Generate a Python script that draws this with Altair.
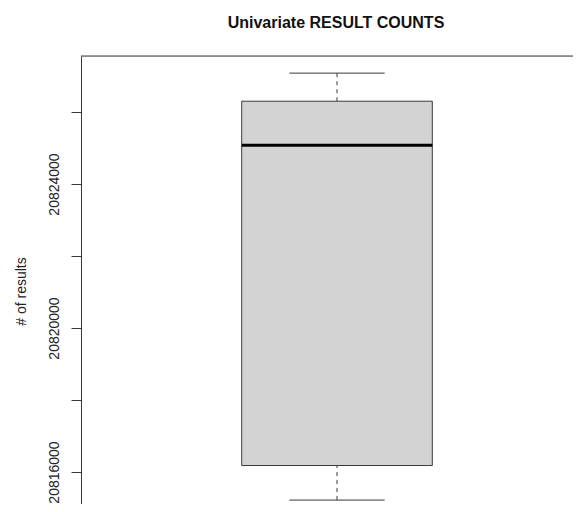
import altair as alt
import pandas as pd

# ---- data ----
title_text = ["Univariate RESULT COUNTS"]
y_label = "# of results"
positions = [1]
whisker_low = [20815220]
q1 = [20816180]
median = [20825080]
q3 = [20826300]
whisker_high = [20827080]
y_ticks = [20816000, 20818000, 20820000, 20822000, 20824000, 20826000]

df = pd.DataFrame(dict(pos=positions, lo=whisker_low, q1=q1, med=median, q3=q3, hi=whisker_high))
tdf = pd.DataFrame(dict(t=title_text))

W, H = 492, 448
xs = alt.Scale(domain=[-0.0745, 1.9905], nice=False, zero=False)
ys = alt.Scale(domain=[20815111, 20827556], nice=False, zero=False)

LINE = "#3a3a3a"

base = alt.Chart(df).transform_calculate(
    bx0="datum.pos - 0.4", bx1="datum.pos + 0.4",
    sx0="datum.pos - 0.2", sx1="datum.pos + 0.2",
)

yaxis = alt.Axis(
    values=y_ticks,
    labelExpr="datum.value % 4000 == 0 ? format(datum.value, 'd') : ''",
    labelAngle=270,
    labelAlign="center",
    labelBaseline="alphabetic",
    labelFontSize=14,
    labelColor="#222",
    labelPadding=13,
    tickSize=10,
    tickColor=LINE,
    domainColor=LINE,
    grid=False,
    titleFontSize=14,
    titleFontWeight="normal",
    titleColor="#222",
    titleAngle=270,
    titleAlign="center",
    titleBaseline="middle",
    titleX=-60,
    titleY=235,
    labelOverlap=False,
)


def Y(field):
    return alt.Y(field, scale=ys, axis=yaxis, title=y_label)


def X(field):
    return alt.X(field, scale=xs, axis=None)


box = base.mark_rect(fill="#d3d3d3", stroke=LINE, strokeWidth=1).encode(
    x=X("bx0:Q"), x2="bx1:Q", y=Y("q1:Q"), y2="q3:Q",
)
med = base.mark_rule(color="black", strokeWidth=3).encode(
    x=X("bx0:Q"), x2="bx1:Q", y=Y("med:Q"),
)
wh_up = base.mark_rule(color=LINE, strokeDash=[4, 4]).encode(
    x=X("pos:Q"), y=Y("q3:Q"), y2="hi:Q",
)
wh_lo = base.mark_rule(color=LINE, strokeDash=[4, 4]).encode(
    x=X("pos:Q"), y=Y("lo:Q"), y2="q1:Q",
)
cap_up = base.mark_rule(color=LINE).encode(
    x=X("sx0:Q"), x2="sx1:Q", y=Y("hi:Q"),
)
cap_lo = base.mark_rule(color=LINE).encode(
    x=X("sx0:Q"), x2="sx1:Q", y=Y("lo:Q"),
)
frame_top = alt.Chart(df).mark_rule(color=LINE).encode(
    x=alt.value(0), x2=alt.value(W), y=alt.value(0)
)
title = alt.Chart(tdf).mark_text(
    fontSize=16, fontWeight="bold", color="#111", align="center", baseline="alphabetic"
).encode(text="t:N", x=alt.value(255), y=alt.value(-28))

chart = alt.layer(box, wh_up, wh_lo, cap_up, cap_lo, med, frame_top, title).properties(
    width=W,
    height=H,
    padding={"left": 73, "top": 48, "right": 0, "bottom": 0},
    autosize="none",
).configure_view(strokeWidth=0).configure(font="Liberation Sans")

chart.save("out.html", embed_options={"renderer": "svg", "actions": False})
